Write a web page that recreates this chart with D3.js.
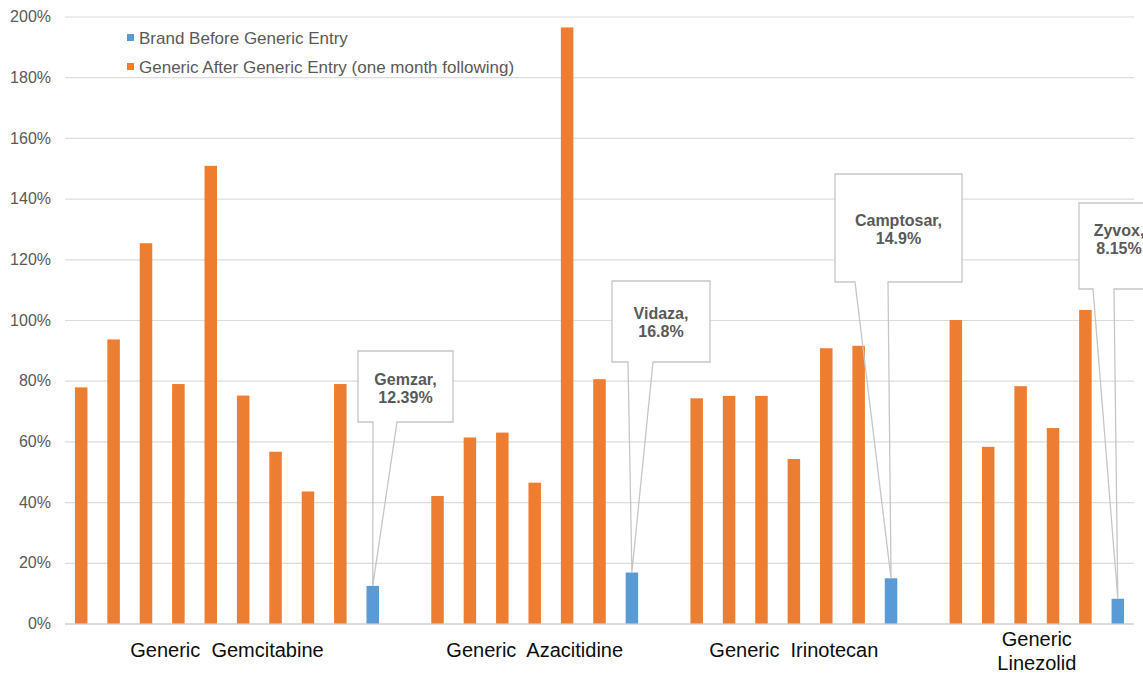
<!DOCTYPE html>
<html>
<head>
<meta charset="utf-8">
<script src="https://cdn.jsdelivr.net/npm/d3@7"></script>
<style>
  html, body { margin: 0; padding: 0; background: #ffffff; }
  svg { display: block; font-family: "Liberation Sans", Arial, sans-serif; }
</style>
</head>
<body>
<svg id="chart" width="1143" height="675"></svg>
<script>
// Price relative to brand, per product group (percent)
const groupLabels = [
  ["Generic  Gemcitabine"],
  ["Generic  Azacitidine"],
  ["Generic  Irinotecan"],
  ["Generic", "Linezolid"]
];
const gemcitabineGeneric = [77.8, 93.6, 125.3, 78.9, 150.8, 75.1, 56.6, 43.5, 78.9];
const azacitidineGeneric = [42.0, 61.3, 62.9, 46.4, 196.4, 80.5];
const irinotecanGeneric  = [74.2, 75.0, 75.0, 54.2, 90.7, 91.5];
const linezolidGeneric   = [100.0, 58.2, 78.2, 64.4, 103.3];
const brandNames  = ["Gemzar", "Vidaza", "Camptosar", "Zyvox"];
const brandValues = [12.39, 16.8, 14.9, 8.15];
const seriesNames = ["Brand Before Generic Entry", "Generic After Generic Entry (one month following)"];
const yTicks = [0, 20, 40, 60, 80, 100, 120, 140, 160, 180, 200];

const genericByGroup = [gemcitabineGeneric, azacitidineGeneric, irinotecanGeneric, linezolidGeneric];

// Callout boxes for the brand bars: box rectangle, pointer base and text centre
const calloutLayout = [
  { x: 358,  y: 351, w: 95,  h: 71,  base: [373, 397],   tx: 405.5, ty: [379, 397] },
  { x: 612,  y: 281, w: 98,  h: 81,  base: [628, 653],   tx: 661,   ty: [313, 331] },
  { x: 835,  y: 174, w: 127, h: 108, base: [855, 888],   tx: 898.5, ty: [220, 238] },
  { x: 1079, y: 203, w: 82,  h: 86,  base: [1093, 1114], tx: 1119,  ty: [230, 248] }
];

const colors = { brand: "#5B9BD5", generic: "#ED7D31" };

// One slot per bar, with an empty slot between product groups
const slots = [];
genericByGroup.forEach((vals, g) => {
  vals.forEach((v, i) => slots.push({ key: `g${g}-${i}`, group: g, type: "generic", value: v }));
  slots.push({ key: `g${g}-brand`, group: g, type: "brand", value: brandValues[g], name: brandNames[g] });
  if (g < genericByGroup.length - 1) slots.push({ key: `gap${g}`, group: g, type: "gap", value: null });
});

const svg = d3.select("#chart");
const plot = { left: 65, right: 1134, top: 16.5, bottom: 623.5 };

const x = d3.scaleBand()
  .domain(slots.map(d => d.key))
  .range([plot.left, plot.right])
  .paddingInner(0.614)
  .paddingOuter(0.307);

const y = d3.scaleLinear().domain([0, 200]).range([plot.bottom, plot.top]);

// Gridlines and value labels
const yAxis = d3.axisLeft(y)
  .tickValues(yTicks)
  .tickSize(-(plot.right - plot.left))
  .tickFormat(d => d + "%");

const gy = svg.append("g")
  .attr("transform", `translate(${plot.left},0)`)
  .call(yAxis);
gy.select(".domain").remove();
gy.selectAll(".tick line")
  .attr("stroke", d => d === 0 ? "#d0d0d0" : "#dcdcdc")
  .attr("stroke-width", d => d === 0 ? 1.6 : 1.2);
gy.selectAll(".tick text")
  .attr("x", -14)
  .attr("fill", "#595959")
  .style("font-size", "16px")
  .style("font-family", "'Liberation Sans', Arial, sans-serif");

// Bars
const barData = slots.filter(d => d.type !== "gap");
svg.append("g")
  .selectAll("rect")
  .data(barData)
  .join("rect")
  .attr("x", d => x(d.key))
  .attr("width", x.bandwidth())
  .attr("y", d => y(d.value))
  .attr("height", d => y(0) - y(d.value))
  .attr("fill", d => d.type === "brand" ? colors.brand : colors.generic);

// Category labels centred under each group
const catG = svg.append("g");
groupLabels.forEach((lines, g) => {
  const gs = slots.filter(d => d.group === g && d.type !== "gap");
  const cx = (x(gs[0].key) + x(gs[gs.length - 1].key) + x.bandwidth()) / 2;
  const baselines = lines.length === 1 ? [657] : [646, 670];
  lines.forEach((t, i) => {
    catG.append("text")
      .attr("x", cx)
      .attr("y", baselines[i])
      .attr("text-anchor", "middle")
      .style("white-space", "pre")
      .attr("fill", "#0d0d0d")
      .style("font-size", "20px")
      .text(t);
  });
});

// Brand callouts pointing at the top of each blue bar
const calloutG = svg.append("g");
barData.filter(d => d.type === "brand").forEach((d, g) => {
  const L = calloutLayout[g];
  const px = x(d.key) + x.bandwidth() / 2;
  const py = y(d.value);
  calloutG.append("rect")
    .attr("x", L.x).attr("y", L.y).attr("width", L.w).attr("height", L.h)
    .attr("fill", "#ffffff");
  const b = L.y + L.h;
  const p = d3.path();
  p.moveTo(L.base[0], b);
  p.lineTo(L.x, b);
  p.lineTo(L.x, L.y);
  p.lineTo(L.x + L.w, L.y);
  p.lineTo(L.x + L.w, b);
  p.lineTo(L.base[1], b);
  p.lineTo(px, py);
  p.closePath();
  calloutG.append("path")
    .attr("d", p.toString())
    .attr("fill", "none")
    .attr("stroke", "#c6c6c6")
    .attr("stroke-width", 1.3);
  [d.name + ",", d.value + "%"].forEach((t, i) => {
    calloutG.append("text")
      .attr("x", L.tx)
      .attr("y", L.ty[i])
      .attr("dy", "0.35em")
      .attr("text-anchor", "middle")
      .attr("fill", "#595959")
      .style("font-size", "16px")
      .style("font-weight", "bold")
      .text(t);
  });
});

// Legend
const legend = svg.append("g");
[{ name: seriesNames[0], color: colors.brand }, { name: seriesNames[1], color: colors.generic }]
  .forEach((s, i) => {
    const ly = 38 + i * 29;
    legend.append("rect")
      .attr("x", 127).attr("y", ly - 4).attr("width", 7).attr("height", 7)
      .attr("fill", s.color);
    legend.append("text")
      .attr("x", 139).attr("y", ly)
      .attr("dy", "0.35em")
      .attr("fill", "#595959")
      .style("font-size", "17px")
      .text(s.name);
  });
</script>
</body>
</html>
